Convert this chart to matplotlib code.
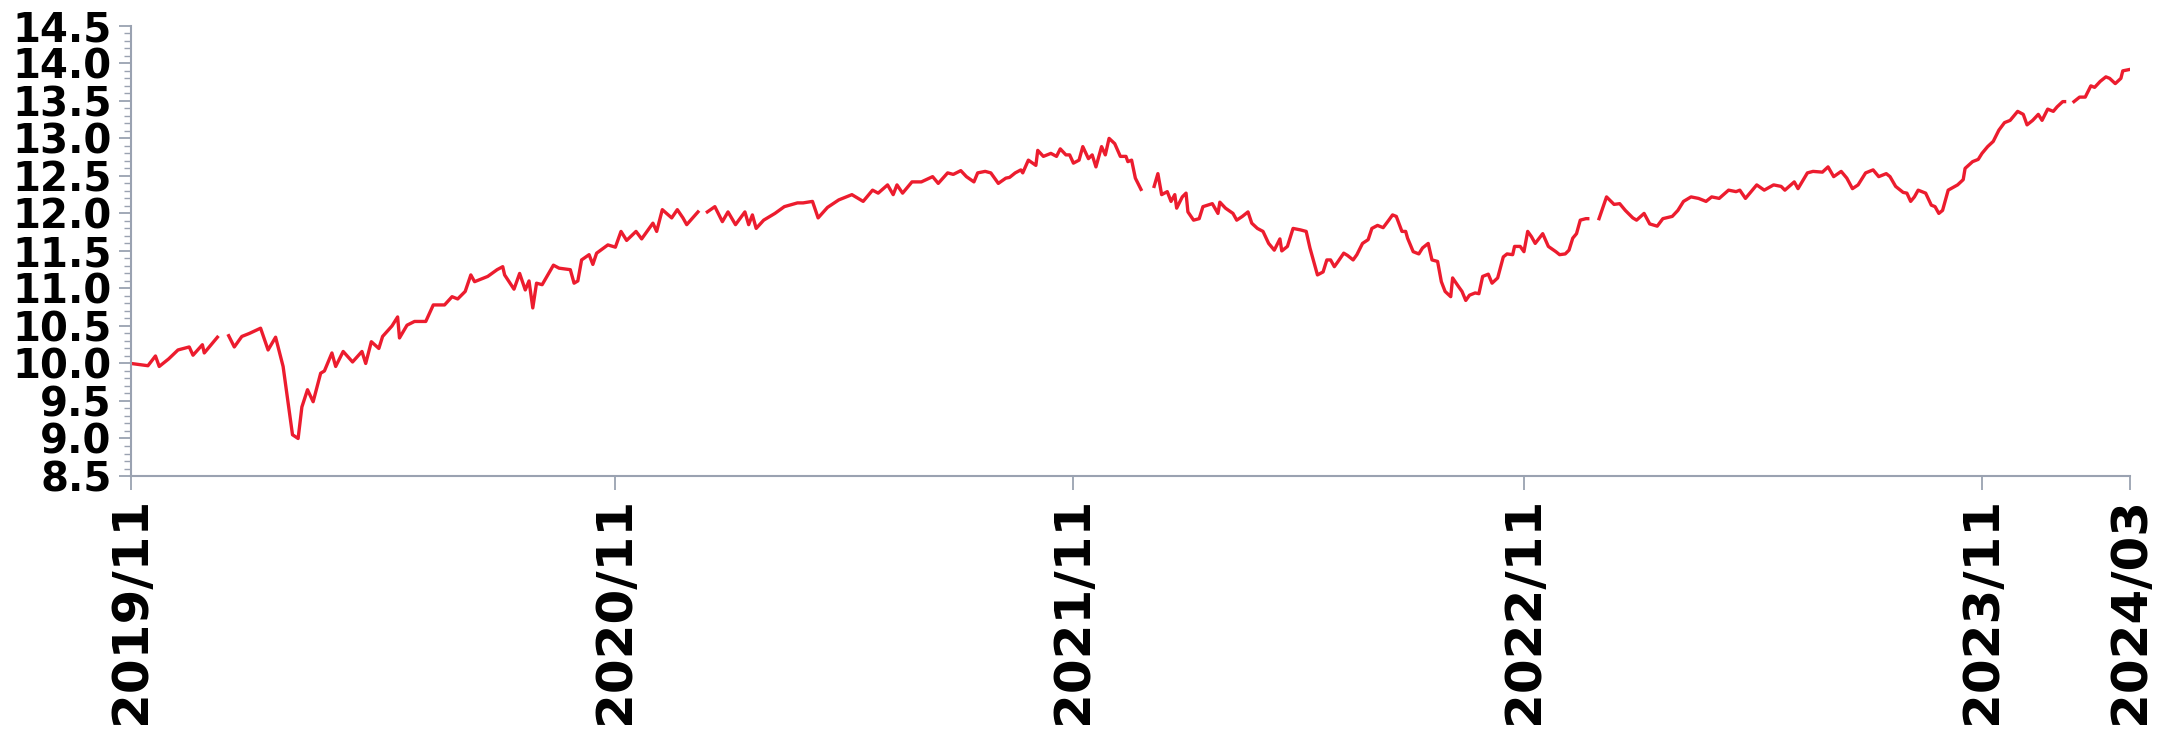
import numpy as np
import matplotlib
matplotlib.use('Agg')
import matplotlib.pyplot as plt
from matplotlib.ticker import MultipleLocator, FixedLocator

# trading-day index since start of series, and NAV value (nan = gap in data)
day = [0, 9, 13, 15, 20, 25, 31, 33, 38, 39, 46, 48, 52, 55, 59, 63, 69, 73, 77, 81,
       83, 86, 89, 91, 94, 97, 101, 103, 107, 109, 113, 118, 123, 125, 128, 132, 134, 139, 142, 143,
       147, 151, 157, 161, 167, 171, 174, 178, 181, 183, 190, 195, 198, 199, 204, 207, 210, 212, 214, 216,
       219, 225, 228, 234, 236, 238, 240, 244, 246, 248, 254, 258, 261, 264, 269, 272, 278, 280, 283, 288,
       291, 294, 296, 302, 304, 307, 311, 315, 318, 322, 327, 329, 331, 333, 337, 343, 348, 355, 358, 363,
       366, 371, 377, 384, 390, 395, 398, 403, 406, 408, 411, 416, 421, 427, 430, 435, 438, 442, 445, 449,
       451, 455, 458, 462, 466, 468, 471, 474, 475, 478, 482, 483, 486, 490, 493, 495, 498, 500, 502, 505,
       507, 510, 512, 514, 517, 519, 521, 524, 527, 530, 531, 533, 535, 538, 541, 545, 547, 549, 552, 554,
       556, 557, 560, 562, 563, 566, 569, 571, 576, 579, 580, 583, 587, 589, 592, 595, 597, 600, 603, 606,
       609, 612, 613, 616, 619, 623, 626, 628, 631, 632, 635, 637, 639, 641, 643, 646, 648, 651, 653, 656,
       659, 661, 664, 667, 670, 672, 674, 677, 679, 680, 683, 686, 688, 691, 693, 696, 698, 700, 703, 704,
       707, 709, 711, 713, 716, 718, 720, 723, 725, 728, 731, 733, 736, 737, 740, 742, 744, 746, 748, 752,
       755, 759, 761, 764, 766, 768, 770, 772, 775, 776, 779, 782, 786, 790, 793, 796, 800, 802, 806, 809,
       813, 816, 821, 824, 827, 831, 835, 839, 842, 846, 851, 855, 857, 860, 866, 870, 875, 879, 881, 886,
       888, 893, 896, 901, 904, 907, 911, 914, 917, 920, 924, 928, 931, 935, 937, 940, 944, 946, 948, 950,
       952, 956, 959, 961, 963, 965, 968, 973, 976, 977, 981, 984, 986, 989, 992, 995, 998, 1001, 1005, 1008,
       1010, 1013, 1016, 1018, 1021, 1024, 1026, 1029, 1030, 1032, 1035, 1038, 1041, 1044, 1046, 1049, 1052, 1054, 1057, 1060,
       1061, 1065]

nav = [10.00, 9.97, 10.10, 9.96, 10.06, 10.18, 10.22, 10.11, 10.25, 10.14, 10.35, np.nan, 10.37, 10.22, 10.36, 10.40, 10.47, 10.18, 10.35, 9.96,
       9.60, 9.05, 9.00, 9.42, 9.65, 9.49, 9.87, 9.90, 10.14, 9.96, 10.16, 10.02, 10.16, 10.00, 10.29, 10.20, 10.36, 10.50, 10.62, 10.34,
       10.51, 10.56, 10.56, 10.78, 10.78, 10.89, 10.86, 10.96, 11.18, 11.09, 11.16, 11.25, 11.29, 11.18, 10.99, 11.20, 10.98, 11.10, 10.74, 11.07,
       11.05, 11.31, 11.27, 11.25, 11.07, 11.10, 11.38, 11.45, 11.32, 11.47, 11.58, 11.55, 11.76, 11.64, 11.76, 11.66, 11.87, 11.76, 12.05, 11.94,
       12.05, 11.94, 11.85, 12.02, np.nan, 12.02, 12.09, 11.89, 12.02, 11.85, 12.02, 11.85, 11.98, 11.80, 11.91, 12.00, 12.09, 12.14, 12.14, 12.16,
       11.94, 12.08, 12.18, 12.25, 12.16, 12.31, 12.27, 12.38, 12.25, 12.38, 12.27, 12.42, 12.42, 12.49, 12.40, 12.54, 12.52, 12.57, 12.49, 12.42,
       12.54, 12.56, 12.54, 12.40, 12.47, 12.48, 12.54, 12.58, 12.54, 12.71, 12.64, 12.84, 12.76, 12.80, 12.76, 12.86, 12.78, 12.78, 12.67, 12.71,
       12.89, 12.73, 12.78, 12.62, 12.89, 12.78, 13.00, 12.93, 12.76, 12.76, 12.69, 12.71, 12.47, 12.32, np.nan, 12.36, 12.53, 12.25, 12.29, 12.16,
       12.25, 12.07, 12.22, 12.27, 12.02, 11.91, 11.93, 12.09, 12.13, 12.00, 12.15, 12.07, 12.00, 11.91, 11.96, 12.02, 11.87, 11.80, 11.76, 11.60,
       11.51, 11.66, 11.50, 11.56, 11.80, 11.78, 11.76, 11.54, 11.27, 11.18, 11.22, 11.38, 11.38, 11.29, 11.36, 11.47, 11.44, 11.38, 11.45, 11.60,
       11.65, 11.80, 11.84, 11.81, 11.91, 11.98, 11.96, 11.76, 11.76, 11.67, 11.49, 11.46, 11.54, 11.60, 11.38, 11.36, 11.09, 10.96, 10.89, 11.14,
       11.03, 10.96, 10.84, 10.91, 10.94, 10.93, 11.16, 11.19, 11.07, 11.14, 11.42, 11.46, 11.45, 11.56, 11.56, 11.49, 11.76, 11.69, 11.60, 11.73,
       11.56, 11.49, 11.45, 11.46, 11.51, 11.67, 11.73, 11.91, 11.93, 11.93, np.nan, 11.93, 12.22, 12.12, 12.13, 12.04, 11.94, 11.91, 12.00, 11.86,
       11.83, 11.93, 11.96, 12.04, 12.16, 12.22, 12.20, 12.16, 12.22, 12.20, 12.31, 12.29, 12.31, 12.20, 12.38, 12.31, 12.38, 12.36, 12.31, 12.42,
       12.33, 12.54, 12.56, 12.55, 12.62, 12.49, 12.56, 12.47, 12.33, 12.38, 12.54, 12.58, 12.49, 12.53, 12.49, 12.36, 12.28, 12.27, 12.16, 12.22,
       12.31, 12.27, 12.11, 12.09, 12.00, 12.04, 12.31, 12.38, 12.45, 12.60, 12.69, 12.72, 12.80, 12.89, 12.96, 13.11, 13.21, 13.24, 13.36, 13.32,
       13.18, 13.24, 13.32, 13.24, 13.39, 13.36, 13.42, 13.49, 13.49, np.nan, 13.49, 13.55, 13.55, 13.70, 13.68, 13.76, 13.82, 13.80, 13.73, 13.80,
       13.90, 13.92]

tick_days = [0, 258, 502, 742, 986, 1065]
tick_labels = ['2019/11', '2020/11', '2021/11', '2022/11', '2023/11', '2024/03']

axis_col = '#9aa2b1'

fig = plt.figure(figsize=(21.59, 7.38), dpi=100)
ax = fig.add_axes([0.0607, 0.355, 0.926, 0.61])

ax.plot(day, nav, color='#ec1c2e', linewidth=2.4, solid_joinstyle='round')

ax.set_xlim(0, 1065)
ax.set_ylim(8.5, 14.5)
ax.yaxis.set_major_locator(MultipleLocator(0.5))
ax.yaxis.set_minor_locator(MultipleLocator(0.1))
ax.yaxis.set_major_formatter(matplotlib.ticker.FormatStrFormatter('%.1f'))
ax.xaxis.set_major_locator(FixedLocator(tick_days))
ax.set_xticklabels(tick_labels, rotation=90)

for s in ['top', 'right']:
    ax.spines[s].set_visible(False)
for s in ['left', 'bottom']:
    ax.spines[s].set_color(axis_col)
    ax.spines[s].set_linewidth(1.5)

ax.tick_params(axis='y', which='major', length=9, width=1.3, color=axis_col, pad=5)
ax.tick_params(axis='y', which='minor', length=5, width=1.0, color=axis_col)
ax.tick_params(axis='x', which='major', length=10, width=1.3, color=axis_col, pad=5)
for lab in ax.get_yticklabels():
    lab.set_fontsize(29)
    lab.set_fontweight('bold')
for lab in ax.get_xticklabels():
    lab.set_fontsize(36)
    lab.set_fontweight('bold')

fig.savefig('out.png', dpi=100)
